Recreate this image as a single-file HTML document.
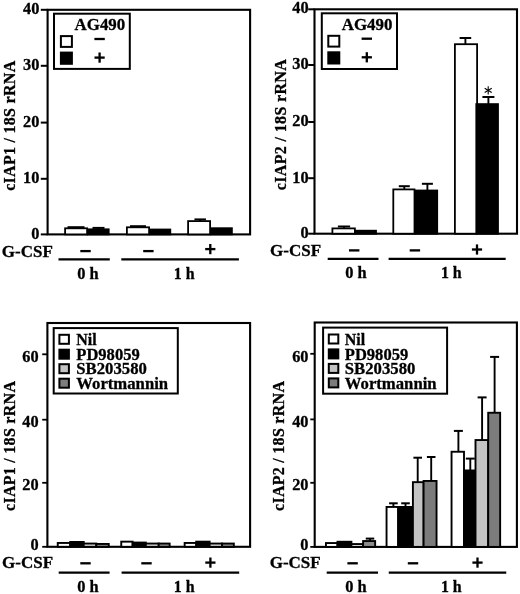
<!DOCTYPE html>
<html><head><meta charset="utf-8"><title>Figure</title>
<style>
html,body{margin:0;padding:0;background:#fff;}
body{width:520px;height:594px;overflow:hidden;font-family:"Liberation Serif",serif;}
svg{display:block;filter:grayscale(1);will-change:transform;}
</style></head>
<body>
<svg width="520" height="594" viewBox="0 0 520 594">
<rect x="0" y="0" width="520" height="594" fill="#fff"/>
<rect x="47.6" y="9.8" width="202.5" height="224.6" fill="none" stroke="#000" stroke-width="2.1"/>
<line x1="40.8" y1="234.4" x2="47.6" y2="234.4" stroke="#000" stroke-width="2"/>
<text x="39.4" y="238.8" font-size="16.5" text-anchor="end" font-family="Liberation Serif, serif" font-weight="bold" stroke="#000" stroke-width="0.3"  textLength="8.15" lengthAdjust="spacingAndGlyphs">0</text>
<line x1="40.8" y1="178.8" x2="47.6" y2="178.8" stroke="#000" stroke-width="2"/>
<text x="39.4" y="183.2" font-size="16.5" text-anchor="end" font-family="Liberation Serif, serif" font-weight="bold" stroke="#000" stroke-width="0.3"  textLength="16.3" lengthAdjust="spacingAndGlyphs">10</text>
<line x1="40.8" y1="122.6" x2="47.6" y2="122.6" stroke="#000" stroke-width="2"/>
<text x="39.4" y="127" font-size="16.5" text-anchor="end" font-family="Liberation Serif, serif" font-weight="bold" stroke="#000" stroke-width="0.3"  textLength="16.3" lengthAdjust="spacingAndGlyphs">20</text>
<line x1="40.8" y1="65.8" x2="47.6" y2="65.8" stroke="#000" stroke-width="2"/>
<text x="39.4" y="70.2" font-size="16.5" text-anchor="end" font-family="Liberation Serif, serif" font-weight="bold" stroke="#000" stroke-width="0.3"  textLength="16.3" lengthAdjust="spacingAndGlyphs">30</text>
<line x1="40.8" y1="9.8" x2="47.6" y2="9.8" stroke="#000" stroke-width="2"/>
<text x="39.4" y="14.2" font-size="16.5" text-anchor="end" font-family="Liberation Serif, serif" font-weight="bold" stroke="#000" stroke-width="0.3"  textLength="16.3" lengthAdjust="spacingAndGlyphs">40</text>
<text transform="translate(15.2,125.8) rotate(-90)" font-size="16" text-anchor="middle" textLength="130" lengthAdjust="spacing" font-family="Liberation Serif, serif" font-weight="bold" stroke="#000" stroke-width="0.3">cIAP1 / 18S rRNA</text>
<line x1="76" y1="227.2" x2="76" y2="228.4" stroke="#000" stroke-width="1.9"/>
<line x1="67.5" y1="227.2" x2="84.5" y2="227.2" stroke="#000" stroke-width="2"/>
<rect x="65.1" y="228.3" width="22" height="6.1" fill="#fff" stroke="#000" stroke-width="1.8"/>
<line x1="98.5" y1="227.9" x2="98.5" y2="229.4" stroke="#000" stroke-width="1.9"/>
<line x1="92.5" y1="227.9" x2="104.5" y2="227.9" stroke="#000" stroke-width="2"/>
<rect x="87.9" y="229.3" width="20.8" height="5.1" fill="#000" stroke="#000" stroke-width="1.8"/>
<line x1="138" y1="226.2" x2="138" y2="227.4" stroke="#000" stroke-width="1.9"/>
<line x1="130" y1="226.2" x2="146" y2="226.2" stroke="#000" stroke-width="2"/>
<rect x="126.9" y="227.3" width="22.2" height="7.1" fill="#fff" stroke="#000" stroke-width="1.8"/>
<rect x="149.9" y="229.5" width="20.4" height="4.9" fill="#000" stroke="#000" stroke-width="1.8"/>
<line x1="200.2" y1="219.4" x2="200.2" y2="221.2" stroke="#000" stroke-width="1.9"/>
<line x1="194.45" y1="219.4" x2="205.95" y2="219.4" stroke="#000" stroke-width="2"/>
<rect x="188.1" y="221.1" width="22" height="13.3" fill="#fff" stroke="#000" stroke-width="1.8"/>
<rect x="210.9" y="228.2" width="21" height="6.2" fill="#000" stroke="#000" stroke-width="1.8"/>
<text x="1.8" y="256.6" font-size="16.5" text-anchor="start" font-family="Liberation Serif, serif" font-weight="bold" stroke="#000" stroke-width="0.3"  textLength="51" lengthAdjust="spacingAndGlyphs">G-CSF</text>
<rect x="80.3" y="249.95" width="10.4" height="2.3" fill="#000"/>
<rect x="143.2" y="249.95" width="10.4" height="2.3" fill="#000"/>
<rect x="205.2" y="247.95" width="10.2" height="2.3" fill="#000"/>
<rect x="209.15" y="244" width="2.3" height="10.2" fill="#000"/>
<line x1="58.5" y1="259.3" x2="109.8" y2="259.3" stroke="#000" stroke-width="2.2"/>
<line x1="121.3" y1="259.3" x2="238.9" y2="259.3" stroke="#000" stroke-width="2.2"/>
<text x="88" y="278.5" font-size="16.5" text-anchor="middle" font-family="Liberation Serif, serif" font-weight="bold" stroke="#000" stroke-width="0.3"  textLength="21.4" lengthAdjust="spacingAndGlyphs">0 h</text>
<text x="184.1" y="278.5" font-size="16.5" text-anchor="middle" font-family="Liberation Serif, serif" font-weight="bold" stroke="#000" stroke-width="0.3"  textLength="20.8" lengthAdjust="spacingAndGlyphs">1 h</text>
<rect x="54" y="13.7" width="75.8" height="55.2" fill="#fff" stroke="#000" stroke-width="2"/>
<text x="74.6" y="29.8" font-size="16.5" text-anchor="start" font-family="Liberation Serif, serif" font-weight="bold" stroke="#000" stroke-width="0.3"  textLength="50.6" lengthAdjust="spacingAndGlyphs">AG490</text>
<rect x="60.9" y="36.1" width="11" height="10.8" fill="#fff" stroke="#000" stroke-width="2"/>
<rect x="60.9" y="52.6" width="11" height="11.2" fill="#000" stroke="#000" stroke-width="2"/>
<rect x="94.4" y="37.85" width="10.4" height="2.3" fill="#000"/>
<rect x="94.5" y="56.45" width="10.2" height="2.3" fill="#000"/>
<rect x="98.45" y="52.5" width="2.3" height="10.2" fill="#000"/>
<rect x="314.5" y="9.3" width="202.5" height="224.4" fill="none" stroke="#000" stroke-width="2.1"/>
<line x1="308.2" y1="233.7" x2="314.5" y2="233.7" stroke="#000" stroke-width="2"/>
<text x="308.6" y="238.1" font-size="16.5" text-anchor="end" font-family="Liberation Serif, serif" font-weight="bold" stroke="#000" stroke-width="0.3"  textLength="8.15" lengthAdjust="spacingAndGlyphs">0</text>
<line x1="308.2" y1="178.2" x2="314.5" y2="178.2" stroke="#000" stroke-width="2"/>
<text x="308.6" y="182.6" font-size="16.5" text-anchor="end" font-family="Liberation Serif, serif" font-weight="bold" stroke="#000" stroke-width="0.3"  textLength="16.3" lengthAdjust="spacingAndGlyphs">10</text>
<line x1="308.2" y1="122" x2="314.5" y2="122" stroke="#000" stroke-width="2"/>
<text x="308.6" y="126.4" font-size="16.5" text-anchor="end" font-family="Liberation Serif, serif" font-weight="bold" stroke="#000" stroke-width="0.3"  textLength="16.3" lengthAdjust="spacingAndGlyphs">20</text>
<line x1="308.2" y1="65" x2="314.5" y2="65" stroke="#000" stroke-width="2"/>
<text x="308.6" y="69.4" font-size="16.5" text-anchor="end" font-family="Liberation Serif, serif" font-weight="bold" stroke="#000" stroke-width="0.3"  textLength="16.3" lengthAdjust="spacingAndGlyphs">30</text>
<line x1="308.2" y1="9.3" x2="314.5" y2="9.3" stroke="#000" stroke-width="2"/>
<text x="308.6" y="13.1" font-size="16.5" text-anchor="end" font-family="Liberation Serif, serif" font-weight="bold" stroke="#000" stroke-width="0.3"  textLength="16.3" lengthAdjust="spacingAndGlyphs">40</text>
<text transform="translate(285.8,124.7) rotate(-90)" font-size="16" text-anchor="middle" textLength="131" lengthAdjust="spacing" font-family="Liberation Serif, serif" font-weight="bold" stroke="#000" stroke-width="0.3">cIAP2 / 18S rRNA</text>
<line x1="344" y1="226.5" x2="344" y2="228.5" stroke="#000" stroke-width="1.9"/>
<line x1="337.9" y1="226.5" x2="350.1" y2="226.5" stroke="#000" stroke-width="2"/>
<rect x="332.4" y="228.4" width="22.5" height="5.3" fill="#fff" stroke="#000" stroke-width="1.8"/>
<rect x="355.7" y="230.7" width="20.3" height="3" fill="#000" stroke="#000" stroke-width="1.8"/>
<line x1="404.3" y1="186.2" x2="404.3" y2="189.5" stroke="#000" stroke-width="1.9"/>
<line x1="398.8" y1="186.2" x2="409.8" y2="186.2" stroke="#000" stroke-width="2"/>
<rect x="393.3" y="189.4" width="21.2" height="44.3" fill="#fff" stroke="#000" stroke-width="1.8"/>
<line x1="427.4" y1="183.8" x2="427.4" y2="190.6" stroke="#000" stroke-width="1.9"/>
<line x1="421.9" y1="183.8" x2="432.9" y2="183.8" stroke="#000" stroke-width="2"/>
<rect x="415.3" y="190.5" width="21.9" height="43.2" fill="#000" stroke="#000" stroke-width="1.8"/>
<line x1="465.4" y1="38" x2="465.4" y2="44.3" stroke="#000" stroke-width="1.9"/>
<line x1="459.6" y1="38" x2="471.2" y2="38" stroke="#000" stroke-width="2"/>
<rect x="454.9" y="44.2" width="22.2" height="189.5" fill="#fff" stroke="#000" stroke-width="1.8"/>
<line x1="488.4" y1="97" x2="488.4" y2="104.2" stroke="#000" stroke-width="1.9"/>
<line x1="482.4" y1="97" x2="494.4" y2="97" stroke="#000" stroke-width="2"/>
<rect x="476.3" y="104.1" width="21.7" height="129.6" fill="#000" stroke="#000" stroke-width="1.8"/>
<text x="270.1" y="256.1" font-size="16.5" text-anchor="start" font-family="Liberation Serif, serif" font-weight="bold" stroke="#000" stroke-width="0.3"  textLength="51" lengthAdjust="spacingAndGlyphs">G-CSF</text>
<rect x="349" y="249.25" width="10.4" height="2.3" fill="#000"/>
<rect x="409.7" y="249.25" width="10.4" height="2.3" fill="#000"/>
<rect x="471.9" y="248.35" width="10.2" height="2.3" fill="#000"/>
<rect x="475.85" y="244.4" width="2.3" height="10.2" fill="#000"/>
<line x1="327.7" y1="258.8" x2="378.5" y2="258.8" stroke="#000" stroke-width="2.2"/>
<line x1="388.6" y1="258.8" x2="505.7" y2="258.8" stroke="#000" stroke-width="2.2"/>
<text x="355.9" y="278" font-size="16.5" text-anchor="middle" font-family="Liberation Serif, serif" font-weight="bold" stroke="#000" stroke-width="0.3"  textLength="21.4" lengthAdjust="spacingAndGlyphs">0 h</text>
<text x="451.3" y="278" font-size="16.5" text-anchor="middle" font-family="Liberation Serif, serif" font-weight="bold" stroke="#000" stroke-width="0.3"  textLength="20.8" lengthAdjust="spacingAndGlyphs">1 h</text>
<rect x="321.8" y="13.3" width="75.2" height="55.7" fill="#fff" stroke="#000" stroke-width="2"/>
<text x="341.8" y="29.5" font-size="16.5" text-anchor="start" font-family="Liberation Serif, serif" font-weight="bold" stroke="#000" stroke-width="0.3"  textLength="50.6" lengthAdjust="spacingAndGlyphs">AG490</text>
<rect x="328.3" y="35.8" width="11" height="10.8" fill="#fff" stroke="#000" stroke-width="2"/>
<rect x="328.3" y="52.3" width="11" height="11.2" fill="#000" stroke="#000" stroke-width="2"/>
<rect x="361.6" y="37.55" width="10.4" height="2.3" fill="#000"/>
<rect x="361.7" y="56.15" width="10.2" height="2.3" fill="#000"/>
<rect x="365.65" y="52.2" width="2.3" height="10.2" fill="#000"/>
<line x1="488.2" y1="86.3" x2="488.2" y2="94.5" stroke="#000" stroke-width="1.1"/>
<line x1="484.65" y1="88.35" x2="491.75" y2="92.45" stroke="#000" stroke-width="1.1"/>
<line x1="491.75" y1="88.35" x2="484.65" y2="92.45" stroke="#000" stroke-width="1.1"/>
<rect x="47.4" y="323" width="202.7" height="223.8" fill="none" stroke="#000" stroke-width="2.1"/>
<line x1="42.2" y1="546.8" x2="47.4" y2="546.8" stroke="#000" stroke-width="1.8"/>
<text x="38.6" y="549.8" font-size="16.5" text-anchor="end" font-family="Liberation Serif, serif" font-weight="bold" stroke="#000" stroke-width="0.3"  textLength="8.15" lengthAdjust="spacingAndGlyphs">0</text>
<line x1="42.2" y1="482.8" x2="47.4" y2="482.8" stroke="#000" stroke-width="1.8"/>
<text x="38.6" y="489.9" font-size="16.5" text-anchor="end" font-family="Liberation Serif, serif" font-weight="bold" stroke="#000" stroke-width="0.3"  textLength="16.3" lengthAdjust="spacingAndGlyphs">20</text>
<line x1="42.2" y1="419.7" x2="47.4" y2="419.7" stroke="#000" stroke-width="1.8"/>
<text x="38.6" y="426.8" font-size="16.5" text-anchor="end" font-family="Liberation Serif, serif" font-weight="bold" stroke="#000" stroke-width="0.3"  textLength="16.3" lengthAdjust="spacingAndGlyphs">40</text>
<line x1="42.2" y1="354.3" x2="47.4" y2="354.3" stroke="#000" stroke-width="1.8"/>
<text x="38.6" y="361.9" font-size="16.5" text-anchor="end" font-family="Liberation Serif, serif" font-weight="bold" stroke="#000" stroke-width="0.3"  textLength="16.3" lengthAdjust="spacingAndGlyphs">60</text>
<text transform="translate(15.2,446) rotate(-90)" font-size="16" text-anchor="middle" textLength="130" lengthAdjust="spacing" font-family="Liberation Serif, serif" font-weight="bold" stroke="#000" stroke-width="0.3">cIAP1 / 18S rRNA</text>
<rect x="57.75" y="542.95" width="12.45" height="3.85" fill="#fff" stroke="#000" stroke-width="1.9"/>
<rect x="70.2" y="541.95" width="13.5" height="4.85" fill="#000" stroke="#000" stroke-width="1.9"/>
<rect x="83.7" y="543.55" width="12.6" height="3.25" fill="#dcdcdc" stroke="#000" stroke-width="1.9"/>
<rect x="96.3" y="543.95" width="12.45" height="2.85" fill="#8c8c8c" stroke="#000" stroke-width="1.9"/>
<rect x="121.25" y="541.65" width="11.35" height="5.15" fill="#fff" stroke="#000" stroke-width="1.9"/>
<rect x="132.6" y="542.55" width="13.2" height="4.25" fill="#000" stroke="#000" stroke-width="1.9"/>
<rect x="145.8" y="543.55" width="12.9" height="3.25" fill="#dcdcdc" stroke="#000" stroke-width="1.9"/>
<rect x="158.7" y="543.55" width="10.95" height="3.25" fill="#8c8c8c" stroke="#000" stroke-width="1.9"/>
<rect x="184.65" y="542.95" width="11.55" height="3.85" fill="#fff" stroke="#000" stroke-width="1.9"/>
<rect x="196.2" y="541.65" width="13.4" height="5.15" fill="#000" stroke="#000" stroke-width="1.9"/>
<rect x="209.6" y="543.55" width="12.5" height="3.25" fill="#dcdcdc" stroke="#000" stroke-width="1.9"/>
<rect x="222.1" y="543.55" width="11.75" height="3.25" fill="#8c8c8c" stroke="#000" stroke-width="1.9"/>
<text x="2.1" y="568" font-size="16.5" text-anchor="start" font-family="Liberation Serif, serif" font-weight="bold" stroke="#000" stroke-width="0.3"  textLength="51" lengthAdjust="spacingAndGlyphs">G-CSF</text>
<rect x="80.3" y="562.15" width="10.4" height="2.3" fill="#000"/>
<rect x="141.3" y="562.15" width="10.4" height="2.3" fill="#000"/>
<rect x="205.3" y="561.45" width="10.2" height="2.3" fill="#000"/>
<rect x="209.25" y="557.5" width="2.3" height="10.2" fill="#000"/>
<line x1="58.7" y1="572.55" x2="109.6" y2="572.55" stroke="#000" stroke-width="2.2"/>
<line x1="121.6" y1="572.55" x2="239.2" y2="572.55" stroke="#000" stroke-width="2.2"/>
<text x="88" y="592.1" font-size="16.5" text-anchor="middle" font-family="Liberation Serif, serif" font-weight="bold" stroke="#000" stroke-width="0.3"  textLength="21.4" lengthAdjust="spacingAndGlyphs">0 h</text>
<text x="184.2" y="592.1" font-size="16.5" text-anchor="middle" font-family="Liberation Serif, serif" font-weight="bold" stroke="#000" stroke-width="0.3"  textLength="20.8" lengthAdjust="spacingAndGlyphs">1 h</text>
<rect x="53.7" y="328.1" width="124.1" height="65.4" fill="#fff" stroke="#000" stroke-width="2"/>
<rect x="59.4" y="334.8" width="9.5" height="9" fill="#fff" stroke="#000" stroke-width="2"/>
<text x="76.3" y="344.6" font-size="16.5" text-anchor="start" font-family="Liberation Serif, serif" font-weight="bold" stroke="#000" stroke-width="0.3"  textLength="20.4" lengthAdjust="spacingAndGlyphs">Nil</text>
<rect x="59.4" y="349.7" width="9.5" height="9" fill="#000" stroke="#000" stroke-width="2"/>
<text x="76.3" y="359.7" font-size="16.5" text-anchor="start" font-family="Liberation Serif, serif" font-weight="bold" stroke="#000" stroke-width="0.3"  textLength="63.4" lengthAdjust="spacingAndGlyphs">PD98059</text>
<rect x="59.4" y="364.2" width="9.5" height="9" fill="#c4c4c4" stroke="#000" stroke-width="2"/>
<text x="76.3" y="374.3" font-size="16.5" text-anchor="start" font-family="Liberation Serif, serif" font-weight="bold" stroke="#000" stroke-width="0.3"  textLength="70.6" lengthAdjust="spacingAndGlyphs">SB203580</text>
<rect x="59.4" y="378.7" width="9.5" height="9" fill="#7c7c7c" stroke="#000" stroke-width="2"/>
<text x="76.3" y="388.9" font-size="16.5" text-anchor="start" font-family="Liberation Serif, serif" font-weight="bold" stroke="#000" stroke-width="0.3"  textLength="91.8" lengthAdjust="spacingAndGlyphs">Wortmannin</text>
<rect x="314.7" y="322.5" width="202.2" height="224.4" fill="none" stroke="#000" stroke-width="2.1"/>
<line x1="310.3" y1="546.9" x2="314.7" y2="546.9" stroke="#000" stroke-width="1.8"/>
<text x="308.5" y="549.9" font-size="16.5" text-anchor="end" font-family="Liberation Serif, serif" font-weight="bold" stroke="#000" stroke-width="0.3"  textLength="8.15" lengthAdjust="spacingAndGlyphs">0</text>
<line x1="310.3" y1="482.8" x2="314.7" y2="482.8" stroke="#000" stroke-width="1.8"/>
<text x="308.5" y="489.9" font-size="16.5" text-anchor="end" font-family="Liberation Serif, serif" font-weight="bold" stroke="#000" stroke-width="0.3"  textLength="16.3" lengthAdjust="spacingAndGlyphs">20</text>
<line x1="310.3" y1="419.4" x2="314.7" y2="419.4" stroke="#000" stroke-width="1.8"/>
<text x="308.5" y="426.5" font-size="16.5" text-anchor="end" font-family="Liberation Serif, serif" font-weight="bold" stroke="#000" stroke-width="0.3"  textLength="16.3" lengthAdjust="spacingAndGlyphs">40</text>
<line x1="310.3" y1="353.8" x2="314.7" y2="353.8" stroke="#000" stroke-width="1.8"/>
<text x="308.5" y="361.7" font-size="16.5" text-anchor="end" font-family="Liberation Serif, serif" font-weight="bold" stroke="#000" stroke-width="0.3"  textLength="16.3" lengthAdjust="spacingAndGlyphs">60</text>
<text transform="translate(284.4,446) rotate(-90)" font-size="16" text-anchor="middle" textLength="130" lengthAdjust="spacing" font-family="Liberation Serif, serif" font-weight="bold" stroke="#000" stroke-width="0.3">cIAP2 / 18S rRNA</text>
<rect x="325.95" y="543.05" width="11.55" height="3.85" fill="#fff" stroke="#000" stroke-width="1.9"/>
<rect x="337.5" y="541.75" width="13.9" height="5.15" fill="#000" stroke="#000" stroke-width="1.9"/>
<rect x="351.4" y="544.05" width="11.7" height="2.85" fill="#dcdcdc" stroke="#000" stroke-width="1.9"/>
<line x1="370" y1="538.6" x2="370" y2="541.1" stroke="#000" stroke-width="1.9"/>
<line x1="365.75" y1="538.6" x2="374.25" y2="538.6" stroke="#000" stroke-width="2"/>
<rect x="363.1" y="541.05" width="12.05" height="5.85" fill="#8c8c8c" stroke="#000" stroke-width="1.9"/>
<line x1="393.4" y1="503.3" x2="393.4" y2="507" stroke="#000" stroke-width="1.9"/>
<line x1="389.1" y1="503.3" x2="397.7" y2="503.3" stroke="#000" stroke-width="2"/>
<rect x="386.55" y="506.95" width="11.65" height="39.95" fill="#fff" stroke="#000" stroke-width="1.9"/>
<line x1="405.5" y1="503.3" x2="405.5" y2="507" stroke="#000" stroke-width="1.9"/>
<line x1="401.2" y1="503.3" x2="409.8" y2="503.3" stroke="#000" stroke-width="2"/>
<rect x="398.2" y="506.95" width="14.7" height="39.95" fill="#000" stroke="#000" stroke-width="1.9"/>
<line x1="417.7" y1="457.7" x2="417.7" y2="482.2" stroke="#000" stroke-width="1.9"/>
<line x1="413.4" y1="457.7" x2="422" y2="457.7" stroke="#000" stroke-width="2"/>
<rect x="412.9" y="482.15" width="10.7" height="64.75" fill="#c4c4c4" stroke="#000" stroke-width="1.9"/>
<line x1="431.2" y1="457" x2="431.2" y2="481" stroke="#000" stroke-width="1.9"/>
<line x1="426.9" y1="457" x2="435.5" y2="457" stroke="#000" stroke-width="2"/>
<rect x="423.6" y="480.95" width="12.95" height="65.95" fill="#7c7c7c" stroke="#000" stroke-width="1.9"/>
<line x1="458.4" y1="430.9" x2="458.4" y2="451.8" stroke="#000" stroke-width="1.9"/>
<line x1="453.9" y1="430.9" x2="462.9" y2="430.9" stroke="#000" stroke-width="2"/>
<rect x="451.55" y="451.75" width="12.45" height="95.15" fill="#fff" stroke="#000" stroke-width="1.9"/>
<line x1="470.3" y1="458.6" x2="470.3" y2="470.5" stroke="#000" stroke-width="1.9"/>
<line x1="465.8" y1="458.6" x2="474.8" y2="458.6" stroke="#000" stroke-width="2"/>
<rect x="464" y="470.45" width="11.5" height="76.45" fill="#000" stroke="#000" stroke-width="1.9"/>
<line x1="482.1" y1="397.4" x2="482.1" y2="440.1" stroke="#000" stroke-width="1.9"/>
<line x1="477.6" y1="397.4" x2="486.6" y2="397.4" stroke="#000" stroke-width="2"/>
<rect x="475.5" y="440.05" width="12.7" height="106.85" fill="#c4c4c4" stroke="#000" stroke-width="1.9"/>
<line x1="494.6" y1="356.9" x2="494.6" y2="412.8" stroke="#000" stroke-width="1.9"/>
<line x1="490.1" y1="356.9" x2="499.1" y2="356.9" stroke="#000" stroke-width="2"/>
<rect x="488.2" y="412.75" width="11.95" height="134.15" fill="#7c7c7c" stroke="#000" stroke-width="1.9"/>
<text x="269.7" y="568" font-size="16.5" text-anchor="start" font-family="Liberation Serif, serif" font-weight="bold" stroke="#000" stroke-width="0.3"  textLength="51" lengthAdjust="spacingAndGlyphs">G-CSF</text>
<rect x="347.4" y="562.15" width="10.4" height="2.3" fill="#000"/>
<rect x="407.8" y="562.15" width="10.4" height="2.3" fill="#000"/>
<rect x="472.4" y="561.45" width="10.2" height="2.3" fill="#000"/>
<rect x="476.35" y="557.5" width="2.3" height="10.2" fill="#000"/>
<line x1="326.7" y1="572.55" x2="378" y2="572.55" stroke="#000" stroke-width="2.2"/>
<line x1="388.75" y1="572.55" x2="506.25" y2="572.55" stroke="#000" stroke-width="2.2"/>
<text x="355.9" y="592.1" font-size="16.5" text-anchor="middle" font-family="Liberation Serif, serif" font-weight="bold" stroke="#000" stroke-width="0.3"  textLength="21.4" lengthAdjust="spacingAndGlyphs">0 h</text>
<text x="451.3" y="592.1" font-size="16.5" text-anchor="middle" font-family="Liberation Serif, serif" font-weight="bold" stroke="#000" stroke-width="0.3"  textLength="20.8" lengthAdjust="spacingAndGlyphs">1 h</text>
<rect x="323.1" y="327.6" width="124" height="66.1" fill="#fff" stroke="#000" stroke-width="2"/>
<rect x="328.8" y="334.5" width="9.5" height="9" fill="#fff" stroke="#000" stroke-width="2"/>
<text x="344.8" y="344.6" font-size="16.5" text-anchor="start" font-family="Liberation Serif, serif" font-weight="bold" stroke="#000" stroke-width="0.3"  textLength="20.4" lengthAdjust="spacingAndGlyphs">Nil</text>
<rect x="328.8" y="349.4" width="9.5" height="9" fill="#000" stroke="#000" stroke-width="2"/>
<text x="344.8" y="359.7" font-size="16.5" text-anchor="start" font-family="Liberation Serif, serif" font-weight="bold" stroke="#000" stroke-width="0.3"  textLength="63.4" lengthAdjust="spacingAndGlyphs">PD98059</text>
<rect x="328.8" y="363.9" width="9.5" height="9" fill="#c4c4c4" stroke="#000" stroke-width="2"/>
<text x="344.8" y="374.3" font-size="16.5" text-anchor="start" font-family="Liberation Serif, serif" font-weight="bold" stroke="#000" stroke-width="0.3"  textLength="70.6" lengthAdjust="spacingAndGlyphs">SB203580</text>
<rect x="328.8" y="378.4" width="9.5" height="9" fill="#7c7c7c" stroke="#000" stroke-width="2"/>
<text x="344.8" y="388.9" font-size="16.5" text-anchor="start" font-family="Liberation Serif, serif" font-weight="bold" stroke="#000" stroke-width="0.3"  textLength="91.8" lengthAdjust="spacingAndGlyphs">Wortmannin</text>
</svg>
</body></html>
